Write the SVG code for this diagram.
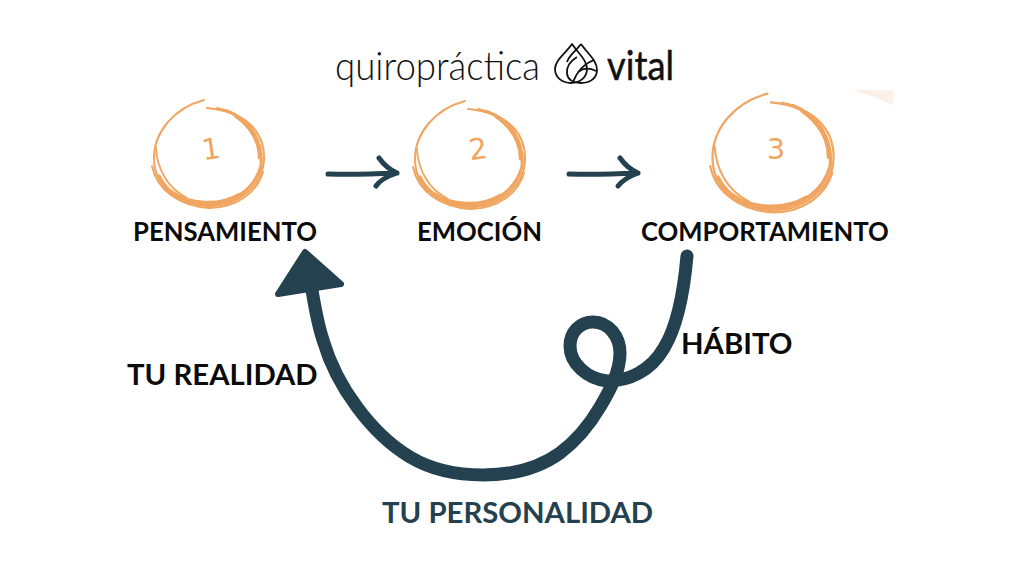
<svg xmlns="http://www.w3.org/2000/svg" width="1024" height="576" viewBox="0 0 1024 576">
<style>
.lbl{font-family:Lato,"Liberation Sans",sans-serif;font-weight:700;fill:#0b0b0b}
.s{font-size:25.7px}
.b{font-size:29.3px}
.num{font-family:"DejaVu Sans",sans-serif;font-size:29px;fill:#f0a560;text-anchor:middle;font-weight:400}
.sk{fill:none;stroke:#f0a560;stroke-linecap:round}
.con{fill:none;stroke:#24414f;stroke-linecap:round;stroke-linejoin:round}
.logo{fill:none;stroke:#111;stroke-width:1.8;stroke-linejoin:round}
</style>
<defs>
<g id="ring">
<path class="sk" stroke-width="2" d="M-5,-54C-35,-46 -55,-22 -55,4C-55,32 -32,50 -2,52C30,53 54,30 55,6C56,-20 40,-42 -2,-46"/>
<path class="sk" stroke-width="2" d="M-57,12C-52,36 -30,52 0,54C28,54 48,38 54,18"/>
<path class="sk" stroke-width="3.2" d="M-50,22C-40,42 -20,50 2,50C26,49 46,34 52,12C54,-12 42,-34 18,-43"/>
<path class="sk" stroke-width="1.8" d="M-53,-6C-52,14 -42,34 -22,44M8,-46C32,-42 50,-22 52,2"/>
<path class="sk" stroke-width="2.4" d="M-36,38C-20,50 10,52 30,40M26,-38C40,-28 50,-14 50,4"/>
</g>
</defs>
<rect width="1024" height="576" fill="#fff"/>
<path d="M852,90H893V105C880,99 866,94 852,90Z" fill="#fdf0e6"/>
<g id="logo">
<text x="335" y="80" font-family="Lato,sans-serif" font-weight="300" font-size="40" fill="#111" textLength="205" lengthAdjust="spacingAndGlyphs">quiropráctica</text>
<path class="logo" d="M572,44C566,53 555,60 555,69C555,78 563,83 571,83C579,83 587,78 587,69C587,60 578,53 572,44Z"/>
<path class="logo" d="M581,44C576,51 569,55 567,62M581,44C587,53 597,60 597,70C597,79 589,83 581,83C574,83 568,80 567,74C566,66 572,60 577,57"/>
<path class="logo" d="M573,82C577,72 583,64 594,60M578,72C583,68 590,68 596,71"/>
<text x="607" y="80" font-family="Lato,sans-serif" font-weight="400" font-size="40" fill="#111" stroke="#111" stroke-width=".5" textLength="67" lengthAdjust="spacingAndGlyphs">vital</text>
</g>
<g id="node1">
<use href="#ring" transform="translate(209,154)"/>
<text class="num" x="211" y="159" transform="rotate(-8 211 149)">1</text>
<text class="lbl s" x="133" y="241">PENSAMIENTO</text>
</g>
<g id="node2">
<use href="#ring" transform="translate(470,155)"/>
<text class="num" x="478" y="159" transform="rotate(-8 478 149)">2</text>
<text class="lbl s" x="417" y="241">EMOCIÓN</text>
</g>
<g id="node3">
<use href="#ring" transform="translate(773,153) scale(1.1)"/>
<text class="num" x="776" y="159">3</text>
<text class="lbl s" x="641" y="241">COMPORTAMIENTO</text>
</g>
<g id="connectors">
<path class="con" stroke-width="5" d="M328,174C350,175 375,174 397,173M379,158C384,165 390,170 397,173C388,176 380,180 376,186"/>
<path class="con" stroke-width="5" d="M569,174C592,175 617,174 638,173M620,158C625,165 631,170 638,173C630,176 622,181 618,186"/>
<path class="con" stroke-width="13" d="M687,256C684,290 678,325 664,348C650,372 628,381 607,381C588,379 570,364 570,346C570,332 580,322 593,322C609,322 620,337 620,353C620,372 609.500,391 600,407C590,424 576,441 560,453C538,469 510,475 483,475C458,475 431,469.500 410,457C390,445 371,426 357,407C342,387 330,364 323,340C317,322 314,303 311,284"/>
<path d="M305,252L341,284L278,294Z" fill="#24414f" stroke="#24414f" stroke-width="6" stroke-linejoin="round"/>
</g>
<text class="lbl b" x="681" y="354">HÁBITO</text>
<text class="lbl b" x="127" y="385">TU REALIDAD</text>
<text class="lbl b" x="382" y="523" style="fill:#24414f">TU PERSONALIDAD</text>
</svg>
